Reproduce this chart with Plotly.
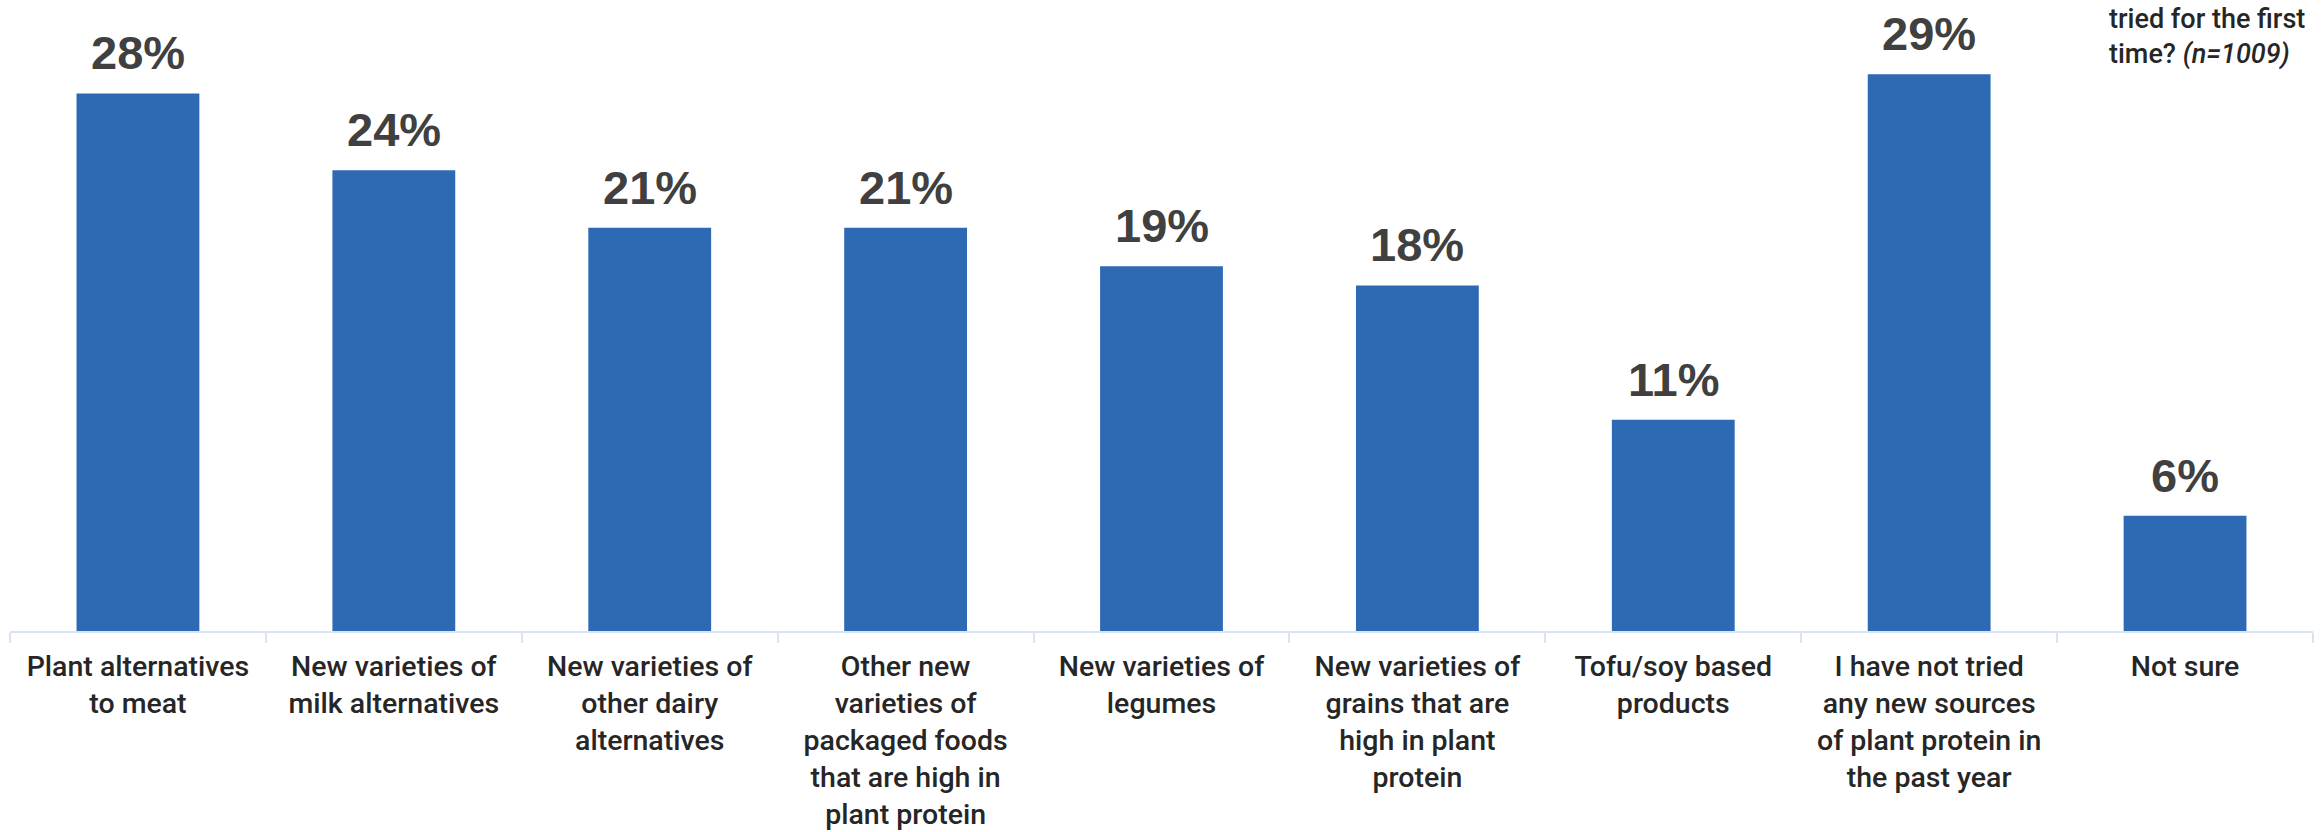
import plotly.graph_objects as go

# Survey responses: new plant-protein sources tried for the first time
categories = [
    "Plant alternatives<br>to meat",
    "New varieties of<br>milk alternatives",
    "New varieties of<br>other dairy<br>alternatives",
    "Other new<br>varieties of<br>packaged foods<br>that are high in<br>plant protein",
    "New varieties of<br>legumes",
    "New varieties of<br>grains that are<br>high in plant<br>protein",
    "Tofu/soy based<br>products",
    "I have not tried<br>any new sources<br>of plant protein in<br>the past year",
    "Not sure",
]
shares = [28, 24, 21, 21, 19, 18, 11, 29, 6]
value_labels = [f"{v}%" for v in shares]

BAR_COLOR = "#2E6AB4"
AXIS_COLOR = "#DAE3F3"
LABEL_FONT = "Roboto, DejaVu Sans Condensed, sans-serif"

fig = go.Figure(
    go.Bar(
        x=categories,
        y=shares,
        marker=dict(color=BAR_COLOR, line=dict(width=0)),
        hoverinfo="skip",
    )
)

# Percent labels above each bar
for cat, val, lab in zip(categories, shares, value_labels):
    fig.add_annotation(
        x=cat, y=val, xref="x", yref="y",
        text=lab, showarrow=False,
        yanchor="bottom", yshift=12,
        font=dict(family="Liberation Sans, Arial, sans-serif", size=47,
                  color="#404040", weight="bold"),
    )

# Tail of the question text in the upper right corner
fig.add_annotation(
    xref="paper", yref="paper", x=0.9105, y=1.018,
    xanchor="left", yanchor="top", align="left",
    text="tried for the first<br>time? <i>(n=1009)</i>",
    showarrow=False,
    font=dict(family=LABEL_FONT, size=27, color="#262626", weight=500),
)

fig.update_layout(
    width=2323, height=832,
    margin=dict(l=10, r=10, t=12, b=201),
    paper_bgcolor="white", plot_bgcolor="white",
    bargap=0.52,
    showlegend=False,
    xaxis=dict(
        type="category",
        automargin=False,
        showline=True, linecolor=AXIS_COLOR, linewidth=2,
        ticks="outside", tickson="boundaries", ticklen=10,
        tickcolor=AXIS_COLOR, tickwidth=2,
        tickfont=dict(family=LABEL_FONT, size=28.5, color="#262626", weight=500),
        ticklabelstandoff=9,
        tickangle=0,
        showgrid=False,
    ),
    yaxis=dict(
        range=[0, 32.24],
        visible=False,
        automargin=False,
        showgrid=False, zeroline=False,
    ),
)

fig.write_html("out.html")
